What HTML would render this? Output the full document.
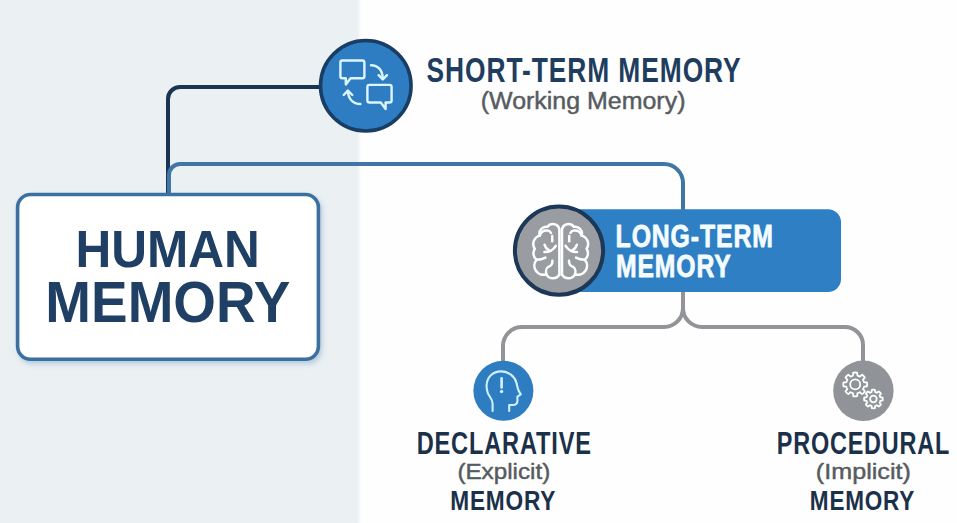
<!DOCTYPE html>
<html><head><meta charset="utf-8"><style>
html,body{margin:0;padding:0;width:957px;height:523px;overflow:hidden;background:#fefefe}
</style></head><body>
<svg width="957" height="523" viewBox="0 0 957 523" style="position:absolute;left:0;top:0;font-family:'Liberation Sans',sans-serif">
<defs>
 <linearGradient id="bgl" x1="0" x2="361" y1="0" y2="0" gradientUnits="userSpaceOnUse"><stop offset="0" stop-color="#ebf0f3"/><stop offset="0.99" stop-color="#ebf0f3"/><stop offset="1" stop-color="#ebf0f3" stop-opacity="0"/></linearGradient>
 <filter id="sh" x="-10%" y="-10%" width="120%" height="130%"><feGaussianBlur in="SourceAlpha" stdDeviation="2.5"/><feOffset dx="1.5" dy="2.5" result="o"/><feFlood flood-color="#4f86ad" flood-opacity="0.35"/><feComposite in2="o" operator="in"/><feMerge><feMergeNode/><feMergeNode in="SourceGraphic"/></feMerge></filter>
</defs>
<rect x="0" y="0" width="361" height="523" fill="url(#bgl)"/>
<!-- navy line -->
<path d="M320 87 H180 A12 12 0 0 0 168 99 V194" fill="none" stroke="#1b3452" stroke-width="4"/>
<!-- blue line -->
<path d="M169 194 V175 A11 11 0 0 1 180 164 H664 A19 19 0 0 1 683 183 V210" fill="none" stroke="#3f76a5" stroke-width="4"/>
<!-- gray lines -->
<path d="M683 291 V308 A19 19 0 0 1 664 327 H522 A19 19 0 0 0 503 346 V362" fill="none" stroke="#929497" stroke-width="4"/>
<path d="M683 308 A19 19 0 0 0 702 327 H845 A18 18 0 0 1 863 345 V362" fill="none" stroke="#929497" stroke-width="4"/>
<!-- human box -->
<rect x="17.6" y="194.5" width="300.8" height="164.8" rx="13" fill="#ffffff" stroke="#3b70a0" stroke-width="3.6" filter="url(#sh)"/>
<!-- short-term circle -->
<circle cx="365.8" cy="85.8" r="45.3" fill="#2e7cc1" stroke="#1a3d63" stroke-width="3.5"/>

<g fill="none" stroke="#dcf5ff" stroke-width="2.4" stroke-linecap="round" stroke-linejoin="round">
 <path d="M342.4 60.5 H362.4 A2 2 0 0 1 364.4 62.5 V76.2 A2 2 0 0 1 362.4 78.2 H350.6 L345.8 84.4 V78.2 H342.4 A2 2 0 0 1 340.4 76.2 V62.5 A2 2 0 0 1 342.4 60.5 Z"/>
 <path d="M369.4 84.9 H389.6 A2 2 0 0 1 391.6 86.9 V100.5 A2 2 0 0 1 389.6 102.5 H385.6 V109 L380.8 102.5 H369.4 A2 2 0 0 1 367.4 100.5 V86.9 A2 2 0 0 1 369.4 84.9 Z"/>
 <path d="M371 65.2 C377.8 65.2 382.6 70 382.8 78.4"/><path d="M378.6 75.2 L382.8 79.4 L387 75.2"/>
 <path d="M360.4 104 C353 104 348.2 99 347.9 91"/><path d="M343.7 95 L347.9 90.6 L352.3 95"/>
</g>
<!-- long-term bar -->
<rect x="560" y="209.2" width="281" height="82.8" rx="13" fill="#2e7fc3"/>
<circle cx="559" cy="250.6" r="44.1" fill="#999ca0" stroke="#1d3756" stroke-width="4"/>
<g fill="none" stroke="#ffffff" stroke-width="2.5" stroke-linecap="round" stroke-linejoin="round">
 <path d="M559.4 275 V229.4 A6.6 6.6 0 0 0 547.6 226.8 A6.8 6.8 0 0 0 539.8 235.6 A8.6 8.6 0 0 0 534.8 248.8 A8.2 8.2 0 0 0 536.6 259.8 A9 9 0 0 0 546.4 274.2 A7.3 7.3 0 0 0 559.4 274.4"/>
 <path d="M539.8 235.6 C541.2 231.6 544.6 230.2 547.4 230.6 C549.2 230.9 550.4 231.8 551 233"/>
 <path d="M552.2 236 V241.2"/>
 <path d="M544.6 244.8 C545.4 247.4 546.8 249.2 548.8 250.2"/>
 <path d="M544.4 252 C548.8 252 553.4 249.8 555.8 245.8"/>
 <path d="M536.6 259.8 C539.4 259.8 542.6 259.2 545.4 257.6"/>
 <path d="M552.4 260.8 C552.6 264 550.6 266 548.4 266.8 C546.4 268 545.4 271.2 546.4 274.2"/>
<g transform="translate(1121.4,0) scale(-1,1)">
 <path d="M559.4 275 V229.4 A6.6 6.6 0 0 0 547.6 226.8 A6.8 6.8 0 0 0 539.8 235.6 A8.6 8.6 0 0 0 534.8 248.8 A8.2 8.2 0 0 0 536.6 259.8 A9 9 0 0 0 546.4 274.2 A7.3 7.3 0 0 0 559.4 274.4"/>
 <path d="M539.8 235.6 C541.2 231.6 544.6 230.2 547.4 230.6 C549.2 230.9 550.4 231.8 551 233"/>
 <path d="M552.2 236 V241.2"/>
 <path d="M544.6 244.8 C545.4 247.4 546.8 249.2 548.8 250.2"/>
 <path d="M544.4 252 C548.8 252 553.4 249.8 555.8 245.8"/>
 <path d="M536.6 259.8 C539.4 259.8 542.6 259.2 545.4 257.6"/>
 <path d="M552.4 260.8 C552.6 264 550.6 266 548.4 266.8 C546.4 268 545.4 271.2 546.4 274.2"/>
</g></g>
<!-- declarative circle -->
<circle cx="503.4" cy="390.8" r="30" fill="#2e7dc1"/>
<g fill="none" stroke="#cdefff" stroke-width="2.1" stroke-linecap="round" stroke-linejoin="round">
 <path d="M492.6 411 V403.5 C492.6 399 489 396.5 487.8 393 C486.9 390.4 486.5 388 486.6 385.5 C486.8 377 493 371.4 501 371.4 C508.6 371.4 514.6 376.4 516.4 382.6 C517.2 385.6 517.6 388.6 518.6 390.6 L520.8 394.4 L517.4 396.6 V401 C517.4 403.4 516 404.8 513.4 405 H509.2 V411"/>
 <path d="M501.6 378.4 V387.4" stroke-width="2.7"/>
</g>
<circle cx="501.6" cy="391.5" r="1.7" fill="#cdefff"/>

<!-- procedural circle -->
<circle cx="863.4" cy="390.8" r="30.2" fill="#909397"/>
<g fill="none" stroke="#ffffff" stroke-width="1.8" stroke-linejoin="round">
 <path d="M855.20 372.50 L855.59 372.51 L855.98 372.53 L856.37 372.56 L856.75 372.60 L857.13 372.70 L857.31 373.80 L857.34 375.24 L857.53 375.71 L857.81 375.79 L858.09 375.88 L858.37 375.98 L858.64 376.09 L858.91 376.20 L859.18 376.33 L859.44 376.46 L859.70 376.61 L860.17 376.41 L861.21 375.41 L862.11 374.76 L862.44 374.96 L862.75 375.20 L863.05 375.45 L863.33 375.71 L863.61 375.99 L863.89 376.27 L864.15 376.55 L864.40 376.85 L864.64 377.16 L864.84 377.49 L864.19 378.39 L863.19 379.43 L862.99 379.90 L863.14 380.16 L863.27 380.42 L863.40 380.69 L863.51 380.96 L863.62 381.23 L863.72 381.51 L863.81 381.79 L863.89 382.07 L864.36 382.26 L865.80 382.29 L866.90 382.47 L867.00 382.85 L867.04 383.23 L867.07 383.62 L867.09 384.01 L867.10 384.40 L867.09 384.79 L867.07 385.18 L867.04 385.57 L867.00 385.95 L866.90 386.33 L865.80 386.51 L864.36 386.54 L863.89 386.73 L863.81 387.01 L863.72 387.29 L863.62 387.57 L863.51 387.84 L863.40 388.11 L863.27 388.38 L863.14 388.64 L862.99 388.90 L863.19 389.37 L864.19 390.41 L864.84 391.31 L864.64 391.64 L864.40 391.95 L864.15 392.25 L863.89 392.53 L863.61 392.81 L863.33 393.09 L863.05 393.35 L862.75 393.60 L862.44 393.84 L862.11 394.04 L861.21 393.39 L860.17 392.39 L859.70 392.19 L859.44 392.34 L859.18 392.47 L858.91 392.60 L858.64 392.71 L858.37 392.82 L858.09 392.92 L857.81 393.01 L857.53 393.09 L857.34 393.56 L857.31 395.00 L857.13 396.10 L856.75 396.20 L856.37 396.24 L855.98 396.27 L855.59 396.29 L855.20 396.30 L854.81 396.29 L854.42 396.27 L854.03 396.24 L853.65 396.20 L853.27 396.10 L853.09 395.00 L853.06 393.56 L852.87 393.09 L852.59 393.01 L852.31 392.92 L852.03 392.82 L851.76 392.71 L851.49 392.60 L851.22 392.47 L850.96 392.34 L850.70 392.19 L850.23 392.39 L849.19 393.39 L848.29 394.04 L847.96 393.84 L847.65 393.60 L847.35 393.35 L847.07 393.09 L846.79 392.81 L846.51 392.53 L846.25 392.25 L846.00 391.95 L845.76 391.64 L845.56 391.31 L846.21 390.41 L847.21 389.37 L847.41 388.90 L847.26 388.64 L847.13 388.38 L847.00 388.11 L846.89 387.84 L846.78 387.57 L846.68 387.29 L846.59 387.01 L846.51 386.73 L846.04 386.54 L844.60 386.51 L843.50 386.33 L843.40 385.95 L843.36 385.57 L843.33 385.18 L843.31 384.79 L843.30 384.40 L843.31 384.01 L843.33 383.62 L843.36 383.23 L843.40 382.85 L843.50 382.47 L844.60 382.29 L846.04 382.26 L846.51 382.07 L846.59 381.79 L846.68 381.51 L846.78 381.23 L846.89 380.96 L847.00 380.69 L847.13 380.42 L847.26 380.16 L847.41 379.90 L847.21 379.43 L846.21 378.39 L845.56 377.49 L845.76 377.16 L846.00 376.85 L846.25 376.55 L846.51 376.27 L846.79 375.99 L847.07 375.71 L847.35 375.45 L847.65 375.20 L847.96 374.96 L848.29 374.76 L849.19 375.41 L850.23 376.41 L850.70 376.61 L850.96 376.46 L851.22 376.33 L851.49 376.20 L851.76 376.09 L852.03 375.98 L852.31 375.88 L852.59 375.79 L852.87 375.71 L853.06 375.24 L853.09 373.80 L853.27 372.70 L853.65 372.60 L854.03 372.56 L854.42 372.53 L854.81 372.51 Z"/>
 <circle cx="855.2" cy="384.4" r="5"/>
 <path d="M873.40 389.70 L873.70 389.70 L874.01 389.72 L874.31 389.74 L874.61 389.78 L874.91 389.82 L875.10 390.44 L875.13 391.57 L875.24 392.14 L875.46 392.21 L875.68 392.28 L875.90 392.36 L876.12 392.44 L876.33 392.53 L876.54 392.63 L876.75 392.74 L876.95 392.85 L877.43 392.52 L878.25 391.74 L878.82 391.44 L879.06 391.62 L879.30 391.81 L879.53 392.01 L879.76 392.21 L879.98 392.42 L880.19 392.64 L880.39 392.87 L880.59 393.10 L880.78 393.34 L880.96 393.58 L880.66 394.15 L879.88 394.97 L879.55 395.45 L879.66 395.65 L879.77 395.86 L879.87 396.07 L879.96 396.28 L880.04 396.50 L880.12 396.72 L880.19 396.94 L880.26 397.16 L880.83 397.27 L881.96 397.30 L882.58 397.49 L882.62 397.79 L882.66 398.09 L882.68 398.39 L882.70 398.70 L882.70 399.00 L882.70 399.30 L882.68 399.61 L882.66 399.91 L882.62 400.21 L882.58 400.51 L881.96 400.70 L880.83 400.73 L880.26 400.84 L880.19 401.06 L880.12 401.28 L880.04 401.50 L879.96 401.72 L879.87 401.93 L879.77 402.14 L879.66 402.35 L879.55 402.55 L879.88 403.03 L880.66 403.85 L880.96 404.42 L880.78 404.66 L880.59 404.90 L880.39 405.13 L880.19 405.36 L879.98 405.58 L879.76 405.79 L879.53 405.99 L879.30 406.19 L879.06 406.38 L878.82 406.56 L878.25 406.26 L877.43 405.48 L876.95 405.15 L876.75 405.26 L876.54 405.37 L876.33 405.47 L876.12 405.56 L875.90 405.64 L875.68 405.72 L875.46 405.79 L875.24 405.86 L875.13 406.43 L875.10 407.56 L874.91 408.18 L874.61 408.22 L874.31 408.26 L874.01 408.28 L873.70 408.30 L873.40 408.30 L873.10 408.30 L872.79 408.28 L872.49 408.26 L872.19 408.22 L871.89 408.18 L871.70 407.56 L871.67 406.43 L871.56 405.86 L871.34 405.79 L871.12 405.72 L870.90 405.64 L870.68 405.56 L870.47 405.47 L870.26 405.37 L870.05 405.26 L869.85 405.15 L869.37 405.48 L868.55 406.26 L867.98 406.56 L867.74 406.38 L867.50 406.19 L867.27 405.99 L867.04 405.79 L866.82 405.58 L866.61 405.36 L866.41 405.13 L866.21 404.90 L866.02 404.66 L865.84 404.42 L866.14 403.85 L866.92 403.03 L867.25 402.55 L867.14 402.35 L867.03 402.14 L866.93 401.93 L866.84 401.72 L866.76 401.50 L866.68 401.28 L866.61 401.06 L866.54 400.84 L865.97 400.73 L864.84 400.70 L864.22 400.51 L864.18 400.21 L864.14 399.91 L864.12 399.61 L864.10 399.30 L864.10 399.00 L864.10 398.70 L864.12 398.39 L864.14 398.09 L864.18 397.79 L864.22 397.49 L864.84 397.30 L865.97 397.27 L866.54 397.16 L866.61 396.94 L866.68 396.72 L866.76 396.50 L866.84 396.28 L866.93 396.07 L867.03 395.86 L867.14 395.65 L867.25 395.45 L866.92 394.97 L866.14 394.15 L865.84 393.58 L866.02 393.34 L866.21 393.10 L866.41 392.87 L866.61 392.64 L866.82 392.42 L867.04 392.21 L867.27 392.01 L867.50 391.81 L867.74 391.62 L867.98 391.44 L868.55 391.74 L869.37 392.52 L869.85 392.85 L870.05 392.74 L870.26 392.63 L870.47 392.53 L870.68 392.44 L870.90 392.36 L871.12 392.28 L871.34 392.21 L871.56 392.14 L871.67 391.57 L871.70 390.44 L871.89 389.82 L872.19 389.78 L872.49 389.74 L872.79 389.72 L873.10 389.70 Z"/>
 <circle cx="873.4" cy="399.0" r="3.3"/>
</g>
<text transform="translate(75.38,267.00) scale(0.9551,1)" font-size="51.88" font-weight="bold" fill="#1f4064"   >HUMAN</text><text transform="translate(45.33,321.80) scale(0.9444,1)" font-size="58.12" font-weight="bold" fill="#1f4064"   >MEMORY</text><text transform="translate(426.61,82.40) scale(0.7678,1)" font-size="34.35" font-weight="bold" fill="#1f3d5f" letter-spacing="1.202"  >SHORT-TERM MEMORY</text><text transform="translate(480.73,109.38) scale(1.0312,1)" font-size="24.20" font-weight="normal" fill="#575b60"   stroke="#575b60" stroke-width="0.45" stroke-linejoin="round">(Working Memory)</text><text transform="translate(615.60,246.60) scale(0.7860,1)" font-size="31.59" font-weight="bold" fill="#f4fcff" letter-spacing="1.106"  stroke="#f4fcff" stroke-width="0.8" stroke-linejoin="round">LONG-TERM</text><text transform="translate(616.01,277.40) scale(0.7982,1)" font-size="31.01" font-weight="bold" fill="#f4fcff" letter-spacing="1.086"  stroke="#f4fcff" stroke-width="0.8" stroke-linejoin="round">MEMORY</text><text transform="translate(416.67,453.80) scale(0.7613,1)" font-size="31.01" font-weight="bold" fill="#1b3049" letter-spacing="1.086"  >DECLARATIVE</text><text transform="translate(457.38,478.97) scale(1.0633,1)" font-size="22.80" font-weight="normal" fill="#575b60"   stroke="#575b60" stroke-width="0.45" stroke-linejoin="round">(Explicit)</text><text transform="translate(450.23,510.30) scale(0.8323,1)" font-size="27.25" font-weight="bold" fill="#1b3049" letter-spacing="0.954"  >MEMORY</text><text transform="translate(776.78,453.90) scale(0.7660,1)" font-size="30.58" font-weight="bold" fill="#1b3049" letter-spacing="1.070"  >PROCEDURAL</text><text transform="translate(815.84,478.57) scale(1.1033,1)" font-size="22.80" font-weight="normal" fill="#575b60"   stroke="#575b60" stroke-width="0.45" stroke-linejoin="round">(Implicit)</text><text transform="translate(809.83,510.20) scale(0.8231,1)" font-size="27.39" font-weight="bold" fill="#1b3049" letter-spacing="0.959"  >MEMORY</text>
</svg>
</body></html>
